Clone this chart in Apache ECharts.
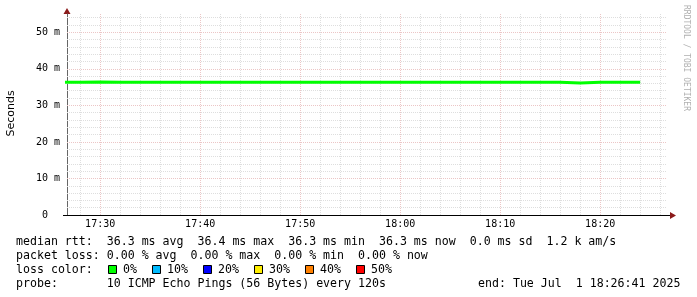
<!DOCTYPE html>
<html><head><meta charset="utf-8">
<script src="https://cdn.jsdelivr.net/npm/echarts@6/dist/echarts.min.js"></script>
<style>html,body{margin:0;padding:0;background:#fff}#c{width:697px;height:297px}</style>
</head><body><div id="c"></div><script>
// ---- data ----
const sampleTimes = ['17:26','17:28','17:30','17:32','17:34','17:36','17:38','17:40','17:42','17:44','17:46','17:48','17:50','17:52','17:54','17:56','17:58','18:00','18:02','18:04','18:06','18:08','18:10','18:12','18:14','18:16','18:18','18:20','18:22','18:24'];
const medianRtt = [36.3,36.4,36.3,36.3,36.3,36.3,36.3,36.3,36.3,36.3,36.3,36.3,36.3,36.3,36.3,36.3,36.3,36.3,36.3,36.3,36.3,36.3,36.3,36.3,36.3,36.1,36.3,36.3,36.3,36.3];
const axisStart = '17:26:41';
const axisEnd = '18:26:41';
const xLabelTimes = ['17:30','17:40','17:50','18:00','18:10','18:20'];
const xMinorTimes = ['17:28','17:32','17:34','17:36','17:38','17:42','17:44','17:46','17:48','17:52','17:54','17:56','17:58','18:02','18:04','18:06','18:08','18:12','18:14','18:16','18:18','18:22','18:24','18:26'];
const yLabelTicks = [0,10,20,30,40,50];
const yMajorTicks = [10,20,30,40,50];
const yMinorTicks = [2,4,6,8,12,14,16,18,22,24,26,28,32,34,36,38,42,44,46,48,52,54];
const yMax = 55;
const statLines = [
  'median rtt:  36.3 ms avg  36.4 ms max  36.3 ms min  36.3 ms now  0.0 ms sd  1.2 k am/s',
  'packet loss: 0.00 % avg  0.00 % max  0.00 % min  0.00 % now',
  'loss color:',
  'probe:       10 ICMP Echo Pings (56 Bytes) every 120s'
];
const endText = 'end: Tue Jul  1 18:26:41 2025';
const lossLabels = ['0%','10%','20%','30%','40%','50%'];
const lossColors = ['#00ff00','#00bbff','#0000ff','#ffee00','#ff8000','#ff0000'];
const yAxisTitle = 'Seconds';
const watermark = 'RRDTOOL / TOBI OETIKER';

// ---- helpers ----
function t(s){ const p=s.split(':').map(Number); return new Date(2025,6,1,p[0],p[1],p[2]||0).getTime(); }
function pad(n){ return (n<10?'0':'')+n; }
const MONO = "'DejaVu Sans Mono', monospace";
const GL = 67, GT = 14, GR = 667, GB = 215;
const labelSet = new Set(xLabelTimes.map(s=>t(s)));

const chart = echarts.init(document.getElementById('c'), null, {renderer:'canvas'});

const graphics = [];
statLines.forEach((s,i)=>{
  graphics.push({type:'text', x:16, y:241.5+i*14, silent:true,
    style:{text:s, font:'11.6px '+MONO, fill:'#000', textAlign:'left', textVerticalAlign:'middle'}});
});
graphics.push({type:'text', x:478, y:241.5+3*14, silent:true,
  style:{text:endText, font:'11.6px '+MONO, fill:'#000', textAlign:'left', textVerticalAlign:'middle'}});
let lx = 108;
lossLabels.forEach((lab,i)=>{
  graphics.push({type:'rect', shape:{x:lx+0.5, y:265.5, width:8, height:8}, silent:true,
    style:{fill:lossColors[i], stroke:'#000', lineWidth:1}});
  graphics.push({type:'text', x:lx+15, y:269.5, silent:true,
    style:{text:lab, font:'11.6px '+MONO, fill:'#000', textAlign:'left', textVerticalAlign:'middle'}});
  lx = lx + 15 + lab.length*7 + 15;
});
graphics.push({type:'text', x:11, y:113.5, rotation:Math.PI/2, silent:true,
  style:{text:yAxisTitle, font:"11px 'DejaVu Sans', sans-serif", fill:'#000', textAlign:'center', textVerticalAlign:'middle'}});
graphics.push({type:'text', x:686, y:5, rotation:-Math.PI/2, silent:true,
  style:{text:watermark, font:'8px '+MONO, fill:'#b0b0b0', textAlign:'left', textVerticalAlign:'middle'}});
graphics.push({type:'polygon', silent:true, shape:{points:[[GL,8],[GL-3.5,14],[GL+3.5,14]]}, style:{fill:'#8b1a1a'}});
graphics.push({type:'line', silent:true, shape:{x1:63,y1:GB+0.5,x2:670,y2:GB+0.5}, style:{stroke:'#000',lineWidth:1}});
graphics.push({type:'polygon', silent:true, shape:{points:[[676,GB+0.5],[670,GB-3],[670,GB+4]]}, style:{fill:'#8b1a1a'}});

const gridLineBase = {silent:true, symbol:'none', label:{show:false}, emphasis:{disabled:true}, animation:false};

const option = {
  animation:false,
  backgroundColor:'#ffffff',
  grid:{left:GL, top:GT, right:697-GR, bottom:297-GB, containLabel:false},
  xAxis:{
    type:'time', min:t(axisStart), max:t(axisEnd),
    minInterval:600000, maxInterval:600000,
    axisLine:{show:true, lineStyle:{color:'#000', width:1}},
    axisTick:{show:false},
    splitLine:{show:false},
    axisLabel:{color:'#000', fontFamily:MONO, fontSize:10, margin:4, hideOverlap:false,
      formatter:function(v){ if(!labelSet.has(v)) return ''; const d=new Date(v); return pad(d.getHours())+':'+pad(d.getMinutes()); }}
  },
  yAxis:{
    type:'value', min:0, max:yMax,
    axisLine:{show:true, lineStyle:{color:'#666', width:1}},
    axisTick:{show:false},
    splitLine:{show:false},
    axisLabel:{customValues:yLabelTicks, color:'#000', fontFamily:MONO, fontSize:10, margin:7,
      formatter:function(v){ return v===0 ? '0  ' : v+' m'; }}
  },
  graphic:graphics,
  series:[
    {type:'line', data:[], z:1, markLine:Object.assign({}, gridLineBase, {
      lineStyle:{color:'#dedede', type:[1,1], width:1},
      data: yMinorTicks.map(v=>({yAxis:v})).concat(xMinorTimes.map(s=>({xAxis:t(s)})))})},
    {type:'line', data:[], z:2, markLine:Object.assign({}, gridLineBase, {
      lineStyle:{color:'#ecc6c6', type:[1,1], width:1},
      data: yMajorTicks.map(v=>({yAxis:v})).concat(xLabelTimes.map(s=>({xAxis:t(s)})))})},
    {type:'line', name:'median rtt', z:5, step:'end', showSymbol:false, symbol:'none',
      lineStyle:{color:'#00ff00', width:3}, itemStyle:{color:'#00ff00'},
      data: sampleTimes.map((s,i)=>[t(s), medianRtt[i]])}
  ]
};
chart.setOption(option);
</script></body></html>
